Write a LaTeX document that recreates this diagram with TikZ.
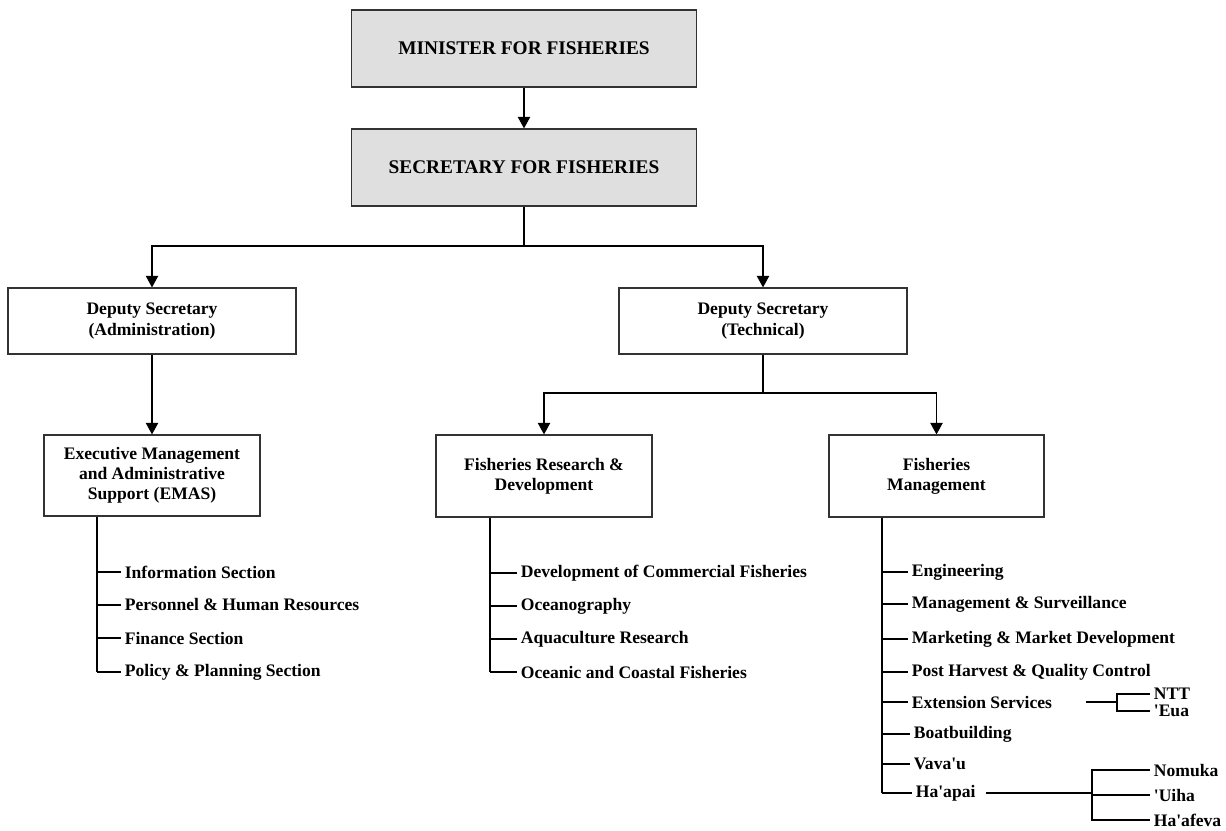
\documentclass[tikz,border=0pt]{standalone}
\usepackage{fontspec}
\setmainfont{Liberation Serif}
\usetikzlibrary{arrows.meta}
\pgfdeclarelayer{edgelayer}
\pgfdeclarelayer{nodelayer}
\pgfsetlayers{edgelayer,nodelayer,main}
\definecolor{boxgrey}{HTML}{DFDFDF}
\definecolor{linegrey}{HTML}{333333}
\newcommand{\q}{\textquotesingle}
\tikzstyle{topbox}=[rectangle,draw=linegrey,line width=0.7pt,fill=boxgrey,minimum width=6.9cm,minimum height=1.54cm,font=\fontsize{11}{13}\selectfont\bfseries]
\tikzstyle{unit}=[rectangle,draw=linegrey,line width=0.7pt,fill=white,align=center,font=\fontsize{10}{11.5}\selectfont\bfseries]
\tikzstyle{item}=[anchor=west,inner xsep=2pt,inner ysep=0pt,font=\fontsize{10}{12}\selectfont\bfseries]
\tikzstyle{arrow}=[-{Triangle[width=7pt,length=6.5pt]},draw=black,line width=0.6pt]
\tikzstyle{link}=[draw=black,line width=0.6pt]
\tikzstyle{spine}=[draw=black,line width=1pt]

\begin{document}
\begin{tikzpicture}
	\useasboundingbox (0,0) rectangle (24.52,-16.6);
	\begin{pgfonlayer}{nodelayer}
		\node [style=topbox] (0) at (10.48, -0.97) {MINISTER FOR FISHERIES};
		\node [style=topbox] (1) at (10.48, -3.35) {SECRETARY FOR FISHERIES};
		\node [style=unit, minimum width=5.76cm, minimum height=1.32cm] (2) at (3.04, -6.42) {Deputy Secretary\\(Administration)};
		\node [style=unit, minimum width=5.76cm, minimum height=1.32cm] (3) at (15.26, -6.42) {Deputy Secretary\\(Technical)};
		\node [style=unit, minimum width=4.32cm, minimum height=1.62cm] (4) at (3.04, -9.51) {Executive Management\\and Administrative\\Support (EMAS)};
		\node [style=unit, minimum width=4.32cm, minimum height=1.64cm] (5) at (10.88, -9.52) {Fisheries Research \&\\Development};
		\node [style=unit, minimum width=4.3cm, minimum height=1.64cm] (6) at (18.73, -9.52) {Fisheries\\Management};

		\node [style=item] (10) at (2.42, -11.44) {Information Section};
		\node [style=item] (11) at (2.42, -12.10) {Personnel \& Human Resources};
		\node [style=item] (12) at (2.42, -12.76) {Finance Section};
		\node [style=item] (13) at (2.42, -13.44) {Policy \& Planning Section};

		\node [style=item] (20) at (10.34, -11.46) {Development of Commercial Fisheries};
		\node [style=item] (21) at (10.34, -12.12) {Oceanography};
		\node [style=item] (22) at (10.34, -12.78) {Aquaculture Research};
		\node [style=item] (23) at (10.34, -13.44) {Oceanic and Coastal Fisheries};

		\node [style=item] (30) at (18.16, -11.44) {Engineering};
		\node [style=item] (31) at (18.16, -12.08) {Management \& Surveillance};
		\node [style=item] (32) at (18.16, -12.78) {Marketing \& Market Development};
		\node [style=item] (33) at (18.16, -13.44) {Post Harvest \& Quality Control};
		\node [style=item] (34) at (18.16, -14.04) {Extension Services};
		\node [style=item] (35) at (18.2, -14.68) {Boatbuilding};
		\node [style=item] (36) at (18.2, -15.28) {Vava\q u};
		\node [style=item] (37) at (18.24, -15.86) {Ha\q apai};

		\node [style=item] (40) at (23.0, -13.88) {NTT};
		\node [style=item] (41) at (23.0, -14.22) {\q Eua};
		\node [style=item] (42) at (23.0, -15.40) {Nomuka};
		\node [style=item] (43) at (23.0, -15.90) {\q Uiha};
		\node [style=item] (44) at (23.0, -16.40) {Ha\q afeva};

		\coordinate (a) at (10.48, -4.92);
		\coordinate (b) at (15.26, -7.86);
		\coordinate (e) at (1.94, -10.32);
		\coordinate (f) at (9.80, -10.34);
		\coordinate (g) at (17.64, -10.34);
		\coordinate (h) at (21.72, -14.04);
		\coordinate (i) at (22.34, -14.04);
		\coordinate (j) at (19.72, -15.86);
		\coordinate (k) at (21.84, -15.86);
	\end{pgfonlayer}
	\begin{pgfonlayer}{edgelayer}
		\draw [style=arrow] (0) to (1);
		\draw [style=link] (1) to (a);
		\draw [style=arrow] (a) -| (2);
		\draw [style=arrow] (a) -| (3);
		\draw [style=arrow] (2) to (4);
		\draw [style=link] (3) to (b);
		\draw [style=arrow] (b) -| (5);
		\draw [style=arrow] (b) -| (6);
		% EMAS sections
		\draw [style=spine] (e) to (e |- 13.west);
		\foreach \n in {10,...,13}
			\draw [style=link] (e |- \n.west) to (\n.west);
		% research sections
		\draw [style=spine] (f) to (f |- 23.west);
		\foreach \n in {20,...,23}
			\draw [style=link] (f |- \n.west) to (\n.west);
		% management sections
		\draw [style=spine] (g) to (g |- 37.west);
		\foreach \n in {30,...,37}
			\draw [style=link] (g |- \n.west) to (\n.west);
		% outer islands
		\draw [style=link] (h) to (i);
		\draw [style=link] (i) |- (40.west);
		\draw [style=link] (i) |- (41.west);
		\draw [style=spine] (j) to (k);
		\draw [style=link] (k) |- (42.west);
		\draw [style=link] (k) |- (43.west);
		\draw [style=link] (k) |- (44.west);
	\end{pgfonlayer}
\end{tikzpicture}
\end{document}
